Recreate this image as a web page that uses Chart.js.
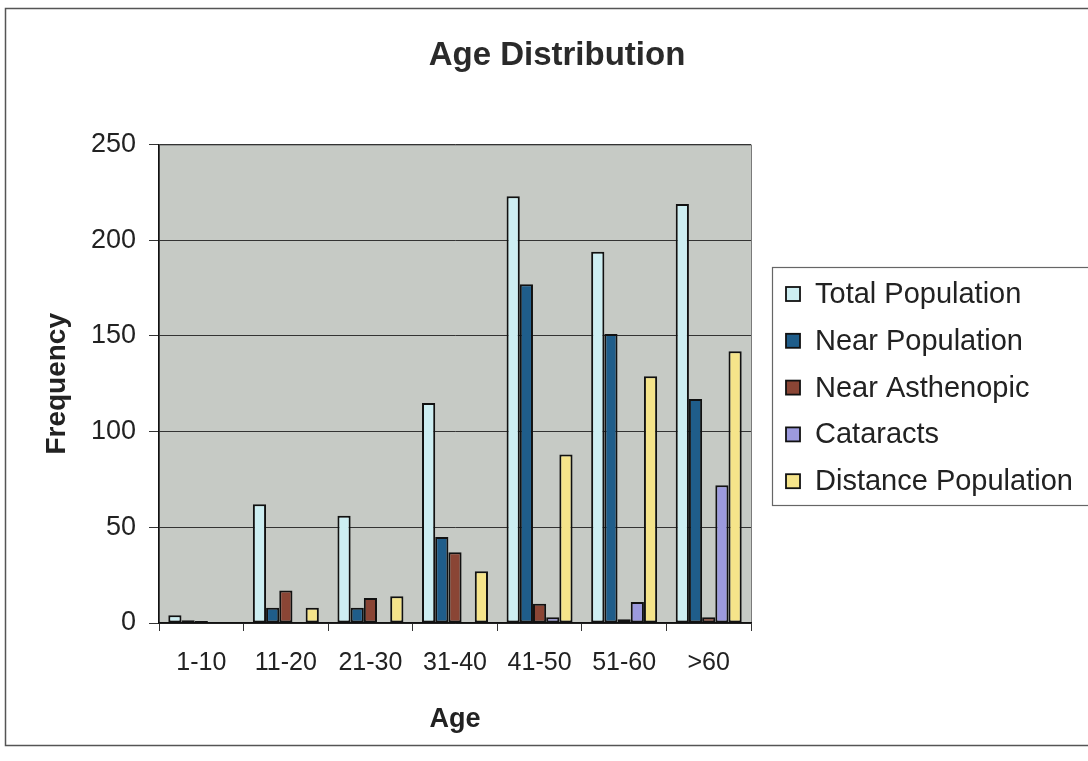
<!DOCTYPE html>
<html>
<head>
<meta charset="utf-8">
<title>Age Distribution</title>
<script src="https://cdn.jsdelivr.net/npm/chart.js@4.4.1/dist/chart.umd.min.js"></script>
<style>
  html, body { margin: 0; padding: 0; background: #ffffff; }
  #wrap { width: 1088px; height: 761px; position: relative; }
</style>
</head>
<body>
<div id="wrap"><canvas id="chart" width="1088" height="761"></canvas></div>
<script>
// Age groups along the x axis
const ageGroups = ['1-10', '11-20', '21-30', '31-40', '41-50', '51-60', '>60'];

// Frequencies per age group
const totalPopulation    = [4, 62, 56, 115, 223, 194, 219];
const nearPopulation     = [1.5, 8, 8, 45, 177, 151, 117];
const nearAsthenopic     = [1, 17, 13, 37, 10, 2, 3];
const cataracts          = [0, 0, 0, 0, 3, 11, 72];
const distancePopulation = [0, 8, 14, 27, 88, 129, 142];

// Y axis tick values
const frequencyTicks = [0, 50, 100, 150, 200, 250];

const seriesNames  = ['Total Population', 'Near Population', 'Near Asthenopic', 'Cataracts', 'Distance Population'];
const seriesValues = [totalPopulation, nearPopulation, nearAsthenopic, cataracts, distancePopulation];
const seriesColors = ['#cdeef2', '#1f5d8a', '#8a4535', '#9c9ade', '#f5e48a'];

const FONT = '"Liberation Sans", Arial, Helvetica, sans-serif';
const INK = '#222222';

// Page frame, plot background and plot-area outline
const backdrop = {
  id: 'backdrop',
  beforeDraw(chart) {
    const { ctx, chartArea: a } = chart;
    ctx.save();
    ctx.fillStyle = '#ffffff';
    ctx.fillRect(0, 0, chart.width, chart.height);
    ctx.strokeStyle = '#555555';
    ctx.lineWidth = 1.5;
    ctx.strokeRect(5.5, 8.5, chart.width + 10, 737);
    ctx.fillStyle = '#c6cac5';
    ctx.fillRect(a.left, a.top, a.right - a.left, a.bottom - a.top);
    ctx.strokeStyle = '#7a7a7a';
    ctx.lineWidth = 1;
    ctx.strokeRect(a.left + 0.5, a.top + 0.5, a.right - a.left, a.bottom - a.top);
    ctx.restore();
  }
};

// Boxed legend to the right of the plot
const boxedLegend = {
  id: 'boxedLegend',
  afterDraw(chart) {
    const { ctx } = chart;
    const x0 = 772, y0 = 267, w = 330, h = 238;
    ctx.save();
    ctx.strokeStyle = '#666666';
    ctx.lineWidth = 1.2;
    ctx.strokeRect(x0 + 0.5, y0 + 0.5, w, h);
    ctx.font = '29px ' + FONT;
    ctx.textBaseline = 'middle';
    chart.data.datasets.forEach((ds, i) => {
      const cy = y0 + 27 + i * 46.8;
      ctx.fillStyle = ds.backgroundColor;
      ctx.fillRect(786, cy - 7, 14, 14);
      ctx.strokeStyle = '#111111';
      ctx.lineWidth = 1.8;
      ctx.strokeRect(786, cy - 7, 14, 14);
      ctx.fillStyle = INK;
      ctx.fillText(ds.label, 815, cy + 1);
    });
    ctx.restore();
  }
};

new Chart(document.getElementById('chart'), {
  type: 'bar',
  data: {
    labels: ageGroups,
    datasets: seriesNames.map((name, i) => ({
      label: name,
      data: seriesValues[i],
      backgroundColor: seriesColors[i],
      borderColor: '#111111',
      borderWidth: 2,
      borderSkipped: false,
      barPercentage: 1.0,
      categoryPercentage: 0.78
    }))
  },
  options: {
    responsive: false,
    animation: false,
    devicePixelRatio: 1,
    layout: { padding: { left: 26, right: 0, top: 0, bottom: 20 } },
    plugins: {
      legend: { display: false },
      tooltip: { enabled: false },
      title: {
        display: true,
        text: 'Age Distribution',
        color: '#2a2a2a',
        font: { family: FONT, size: 33, weight: 'bold' },
        padding: { top: 36, bottom: 69 }
      }
    },
    scales: {
      x: {
        offset: true,
        border: { display: true, color: '#111111', width: 1.5 },
        grid: { display: true, drawOnChartArea: false, drawTicks: true, tickLength: 8, color: '#333333', offset: true },
        ticks: { color: INK, font: { family: FONT, size: 25 }, padding: 17, maxRotation: 0 },
        title: { display: true, text: 'Age', color: INK, font: { family: FONT, size: 27, weight: 'bold' }, padding: { top: 0, bottom: 5 } },
        afterFit(s) { s.height = 118; }
      },
      y: {
        min: 0,
        max: 250,
        border: { display: true, color: '#111111', width: 1.5 },
        grid: { color: '#333333', lineWidth: 1, drawTicks: true, tickLength: 10 },
        afterBuildTicks(s) { s.ticks = frequencyTicks.map(v => ({ value: v })); },
        ticks: { color: INK, font: { family: FONT, size: 27 }, padding: 13 },
        title: { display: true, text: 'Frequency', color: INK, font: { family: FONT, size: 28, weight: 'bold' }, padding: { top: 14, bottom: 0 } },
        afterFit(s) { s.width = 133; }
      },
      legendSpace: {
        type: 'linear',
        position: 'right',
        display: true,
        grid: { display: false },
        border: { display: false },
        ticks: { display: false },
        afterFit(s) { s.width = 337; }
      }
    }
  },
  plugins: [backdrop, boxedLegend]
});
</script>
</body>
</html>
